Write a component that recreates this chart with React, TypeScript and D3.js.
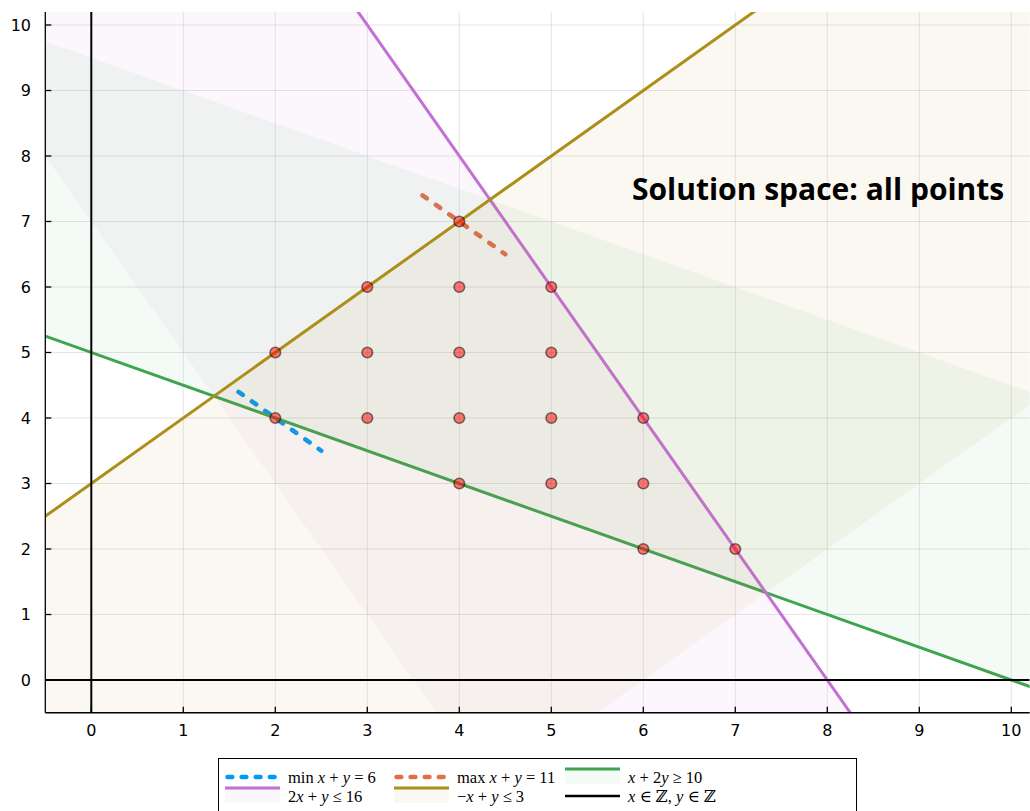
import React from "react";
import * as d3 from "d3";

// ---- data ----
const xDomain = [-0.5, 10.2];
const yDomain = [-0.5, 10.2];
const xTickValues = [0, 1, 2, 3, 4, 5, 6, 7, 8, 9, 10];
const yTickValues = [0, 1, 2, 3, 4, 5, 6, 7, 8, 9, 10];

// constraints a1*x + a2*y (sense) rhs
const constraintCoefX = [1, 2, -1];
const constraintCoefY = [2, 1, 1];
const constraintRhs = [10, 16, 3];
const constraintSense = [1, -1, -1]; // +1 means >=, -1 means <=
const constraintColors = ["#3EA44E", "#C271D2", "#AC8E18"];
const shadeDepth = 9; // width of each shaded band, in constraint units

// objective lines x + y = value, drawn over a short x span
const minObjective = 6;
const minSpanX = [1.6, 2.5];
const maxObjective = 11;
const maxSpanX = [3.6, 4.5];

// integer feasible points
const pointX = [4, 3, 4, 5, 2, 3, 4, 5, 2, 3, 4, 5, 6, 4, 5, 6, 6, 7];
const pointY = [7, 6, 6, 6, 5, 5, 5, 5, 4, 4, 4, 4, 4, 3, 3, 3, 2, 2];

const annotationText = "Solution space: all points";
const annotationAt = [7.9, 7.5];

// ---- layout ----
const W = 1030;
const H = 811;
const P = { left: 45.3, right: 1029.7, top: 11.9, bottom: 712.75 };
const FILL_ALPHA = 0.06;

const x = d3.scaleLinear().domain(xDomain).range([P.left, P.right]);
const y = d3.scaleLinear().domain(yDomain).range([P.bottom, P.top]);
const line = d3
  .line<[number, number]>()
  .x((d) => x(d[0]))
  .y((d) => y(d[1]));

function bandPolygon(i: number): [number, number][] {
  const a1 = constraintCoefX[i];
  const a2 = constraintCoefY[i];
  const b0 = constraintRhs[i];
  const b1 = b0 + constraintSense[i] * shadeDepth;
  const xs = [-3, 14];
  const yAt = (b: number, xv: number) => (b - a1 * xv) / a2;
  return [
    [xs[0], yAt(b0, xs[0])],
    [xs[1], yAt(b0, xs[1])],
    [xs[1], yAt(b1, xs[1])],
    [xs[0], yAt(b1, xs[0])],
  ];
}

function constraintLine(i: number): [number, number][] {
  const a1 = constraintCoefX[i];
  const a2 = constraintCoefY[i];
  const b = constraintRhs[i];
  return [-3, 14].map((xv) => [xv, (b - a1 * xv) / a2] as [number, number]);
}

const objectiveLine = (v: number, span: number[]): [number, number][] =>
  span.map((xv) => [xv, v - xv] as [number, number]);

const italic = { fontStyle: "italic" as const };

function LegendLabel({ kind }: { kind: number }) {
  switch (kind) {
    case 0:
      return (
        <>
          min <tspan style={italic}>x</tspan> + <tspan style={italic}>y</tspan> = 6
        </>
      );
    case 1:
      return (
        <>
          max <tspan style={italic}>x</tspan> + <tspan style={italic}>y</tspan> = 11
        </>
      );
    case 2:
      return (
        <>
          <tspan style={italic}>x</tspan> + 2<tspan style={italic}>y</tspan> ≥ 10
        </>
      );
    case 3:
      return (
        <>
          2<tspan style={italic}>x</tspan> + <tspan style={italic}>y</tspan> ≤ 16
        </>
      );
    case 4:
      return (
        <>
          −<tspan style={italic}>x</tspan> + <tspan style={italic}>y</tspan> ≤ 3
        </>
      );
    default:
      return (
        <>
          <tspan style={italic}>x</tspan> ∈ ℤ, <tspan style={italic}>y</tspan> ∈ ℤ
        </>
      );
  }
}

export default function App() {
  const tickFont = "'DejaVu Sans', sans-serif";
  const legendCols = [225, 394, 565];
  const legendRows = [777, 796];
  // legend items in row-major order
  const legendItems = [
    { dashed: true, color: "#009AFA", band: false },
    { dashed: true, color: "#E36F47", band: false },
    { dashed: false, color: constraintColors[0], band: true },
    { dashed: false, color: constraintColors[1], band: true },
    { dashed: false, color: constraintColors[2], band: true },
    { dashed: false, color: "#000000", band: false },
  ];

  return (
    <div style={{ position: "absolute", left: 0, top: 0 }}>
      <svg width={W} height={H} style={{ display: "block", background: "#fff" }}>
        <defs>
          <clipPath id="plotArea">
            <rect x={P.left} y={P.top} width={P.right - P.left} height={P.bottom - P.top} />
          </clipPath>
        </defs>

        {/* grid */}
        <g stroke="#000" strokeOpacity={0.1} strokeWidth={1}>
          {xTickValues.map((t) => (
            <line key={"gx" + t} x1={x(t)} x2={x(t)} y1={P.top} y2={P.bottom} />
          ))}
          {yTickValues.map((t) => (
            <line key={"gy" + t} x1={P.left} x2={P.right} y1={y(t)} y2={y(t)} />
          ))}
        </g>

        <g clipPath="url(#plotArea)">
          {/* objective lines */}
          <path
            d={line(objectiveLine(minObjective, minSpanX)) || ""}
            fill="none"
            stroke="#009AFA"
            strokeWidth={4.5}
            strokeLinecap="round"
            strokeDasharray="5.3 11.1"
          />
          <path
            d={line(objectiveLine(maxObjective, maxSpanX)) || ""}
            fill="none"
            stroke="#E36F47"
            strokeWidth={4.5}
            strokeLinecap="round"
            strokeDasharray="5.3 11.1"
          />

          {/* constraint bands and boundaries */}
          {constraintRhs.map((_, i) => (
            <g key={"c" + i}>
              <path
                d={line(bandPolygon(i)) + "Z"}
                fill={constraintColors[i]}
                fillOpacity={FILL_ALPHA}
                stroke="none"
              />
              <path d={line(constraintLine(i)) || ""} fill="none" stroke={constraintColors[i]} strokeWidth={3} />
            </g>
          ))}

          {/* integer lattice axes */}
          <line x1={P.left} x2={P.right} y1={y(0)} y2={y(0)} stroke="#000" strokeWidth={2} />
          <line x1={x(0)} x2={x(0)} y1={P.top} y2={P.bottom} stroke="#000" strokeWidth={2} />

          {/* feasible integer points */}
          {pointX.map((px, i) => (
            <circle
              key={"p" + i}
              cx={x(px)}
              cy={y(pointY[i])}
              r={5.3}
              fill="#FF0000"
              fillOpacity={0.5}
              stroke="#000"
              strokeOpacity={0.5}
              strokeWidth={1.6}
            />
          ))}
        </g>

        {/* axes frame */}
        <g stroke="#000" strokeWidth={1.3}>
          <line x1={P.left} x2={P.right} y1={P.bottom} y2={P.bottom} />
          <line x1={P.left} x2={P.left} y1={P.top} y2={P.bottom} />
          {xTickValues.map((t) => (
            <line key={"tx" + t} x1={x(t)} x2={x(t)} y1={P.bottom} y2={P.bottom - 6} />
          ))}
          {yTickValues.map((t) => (
            <line key={"ty" + t} x1={P.left} x2={P.left + 6} y1={y(t)} y2={y(t)} />
          ))}
        </g>
        <g fontFamily={tickFont} fontSize={16} fill="#000">
          {xTickValues.map((t) => (
            <text key={"lx" + t} x={x(t)} y={730} textAnchor="middle" dominantBaseline="central">
              {t}
            </text>
          ))}
          {yTickValues.map((t) => (
            <text key={"ly" + t} x={31} y={y(t)} textAnchor="end" dominantBaseline="central">
              {t}
            </text>
          ))}
        </g>

        {/* annotation */}
        <text
          x={x(annotationAt[0])}
          y={y(annotationAt[1])}
          textAnchor="middle"
          dominantBaseline="central"
          fontFamily="'Open Sans', sans-serif"
          fontWeight="bold"
          fontSize={30}
          fill="#000"
        >
          {annotationText}
        </text>

        {/* legend */}
        <rect x={218.5} y={758.5} width={638} height={60} fill="#fff" stroke="#000" strokeWidth={1} />
        {legendItems.map((it, k) => {
          const col = k % 3;
          const row = Math.floor(k / 3);
          const sx = legendCols[col];
          const cy = legendRows[row];
          const sw = 55;
          return (
            <g key={"lg" + k}>
              {it.band ? (
                <>
                  <rect x={sx} y={cy - 8} width={sw} height={15} fill={it.color} fillOpacity={FILL_ALPHA} />
                  <line x1={sx} x2={sx + sw} y1={cy - 8} y2={cy - 8} stroke={it.color} strokeWidth={3} />
                </>
              ) : it.dashed ? (
                <line
                  x1={sx + 2.5}
                  x2={sx + sw}
                  y1={cy}
                  y2={cy}
                  stroke={it.color}
                  strokeWidth={4.5}
                  strokeLinecap="round"
                  strokeDasharray="4.8 9.3"
                />
              ) : (
                <line x1={sx} x2={sx + sw} y1={cy} y2={cy} stroke={it.color} strokeWidth={2.5} />
              )}
              <text
                x={sx + 63}
                y={cy}
                dominantBaseline="central"
                fontFamily="'Liberation Serif', 'DejaVu Serif', serif"
                fontSize={16.5}
                fill="#000"
              >
                <LegendLabel kind={k} />
              </text>
            </g>
          );
        })}
      </svg>
    </div>
  );
}
